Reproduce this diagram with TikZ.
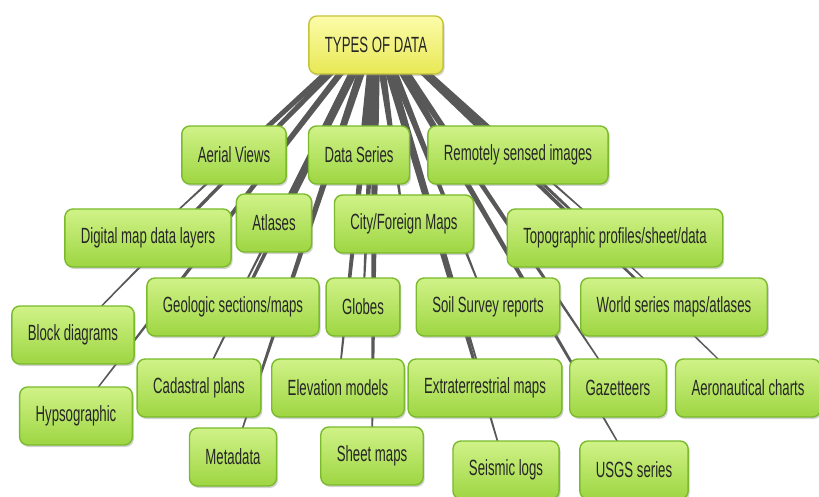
\documentclass[tikz,border=0pt]{standalone}
\usepackage{fontspec}
\setmainfont[FakeStretch=0.6]{Liberation Sans}
\usepackage{tikz}
\usetikzlibrary{positioning,shapes,shadows,backgrounds}

\definecolor{leafTop}{RGB}{208,242,136}
\definecolor{leafBot}{RGB}{158,214,66}
\definecolor{leafLine}{RGB}{122,186,44}
\definecolor{rootTop}{RGB}{252,252,170}
\definecolor{rootBot}{RGB}{232,232,84}
\definecolor{rootLine}{RGB}{196,196,60}
\definecolor{wireGray}{RGB}{88,88,88}
\definecolor{inkGray}{RGB}{38,38,38}

\tikzset{
  topic/.style={rectangle, rounded corners=8pt, draw=leafLine, line width=1.4pt,
    top color=leafTop, bottom color=leafBot, text=inkGray,
    font=\fontsize{22}{25}\selectfont, inner xsep=16pt, minimum height=58pt,
    drop shadow={shadow xshift=1.5pt, shadow yshift=-2pt, opacity=0.35}},
  roottopic/.style={topic, draw=rootLine, top color=rootTop, bottom color=rootBot},
  wire/.style={fill=wireGray}
}

\begin{document}
\begin{tikzpicture}[x=1pt,y=-1pt]
\useasboundingbox (0,0) rectangle (819,497);

\node[roottopic] (root) at (376,45) {TYPES OF DATA};

\node[topic] (aerial) at (234,155) {Aerial Views};
\node[topic] (series) at (359,155) {Data Series};
\node[topic] (remote) at (518,155) {Remotely sensed images};
\node[topic] (digital) at (148,238) {Digital map data layers};
\node[topic] (atlases) at (274,223) {Atlases};
\node[topic] (city) at (404,224) {City/Foreign Maps};
\node[topic] (topo) at (615,238) {Topographic profiles/sheet/data};
\node[topic] (block) at (73,335) {Block diagrams};
\node[topic] (geologic) at (233,307) {Geologic sections/maps};
\node[topic] (globes) at (363,307) {Globes};
\node[topic] (soil) at (488,307) {Soil Survey reports};
\node[topic] (world) at (674,307) {World series maps/atlases};
\node[topic] (hypso) at (76,416) {Hypsographic};
\node[topic] (cadastral) at (199,388) {Cadastral plans};
\node[topic] (elevation) at (338,388) {Elevation models};
\node[topic] (extra) at (485,388) {Extraterrestrial maps};
\node[topic] (gazetteers) at (618,388) {Gazetteers};
\node[topic] (aero) at (748,388) {Aeronautical charts};
\node[topic] (metadata) at (233,457) {Metadata};
\node[topic] (sheet) at (372,456) {Sheet maps};
\node[topic] (seismic) at (506,470) {Seismic logs};
\node[topic] (usgs) at (634,470) {USGS series};

\coordinate (hub) at ([yshift=-12pt]root.north);

\begin{scope}[on background layer]
\foreach \t in {aerial,series,remote,digital,atlases,city,topo,block,geologic,globes,soil,world,hypso,cadastral,elevation,extra,gazetteers,aero,metadata,sheet,seismic,usgs}
  \fill[wire] ([xshift=-4.5pt]hub) -- ([xshift=-0.6pt]\t.center) -- ([xshift=0.6pt]\t.center) -- ([xshift=4.5pt]hub) -- cycle;
\end{scope}
\end{tikzpicture}
\end{document}
